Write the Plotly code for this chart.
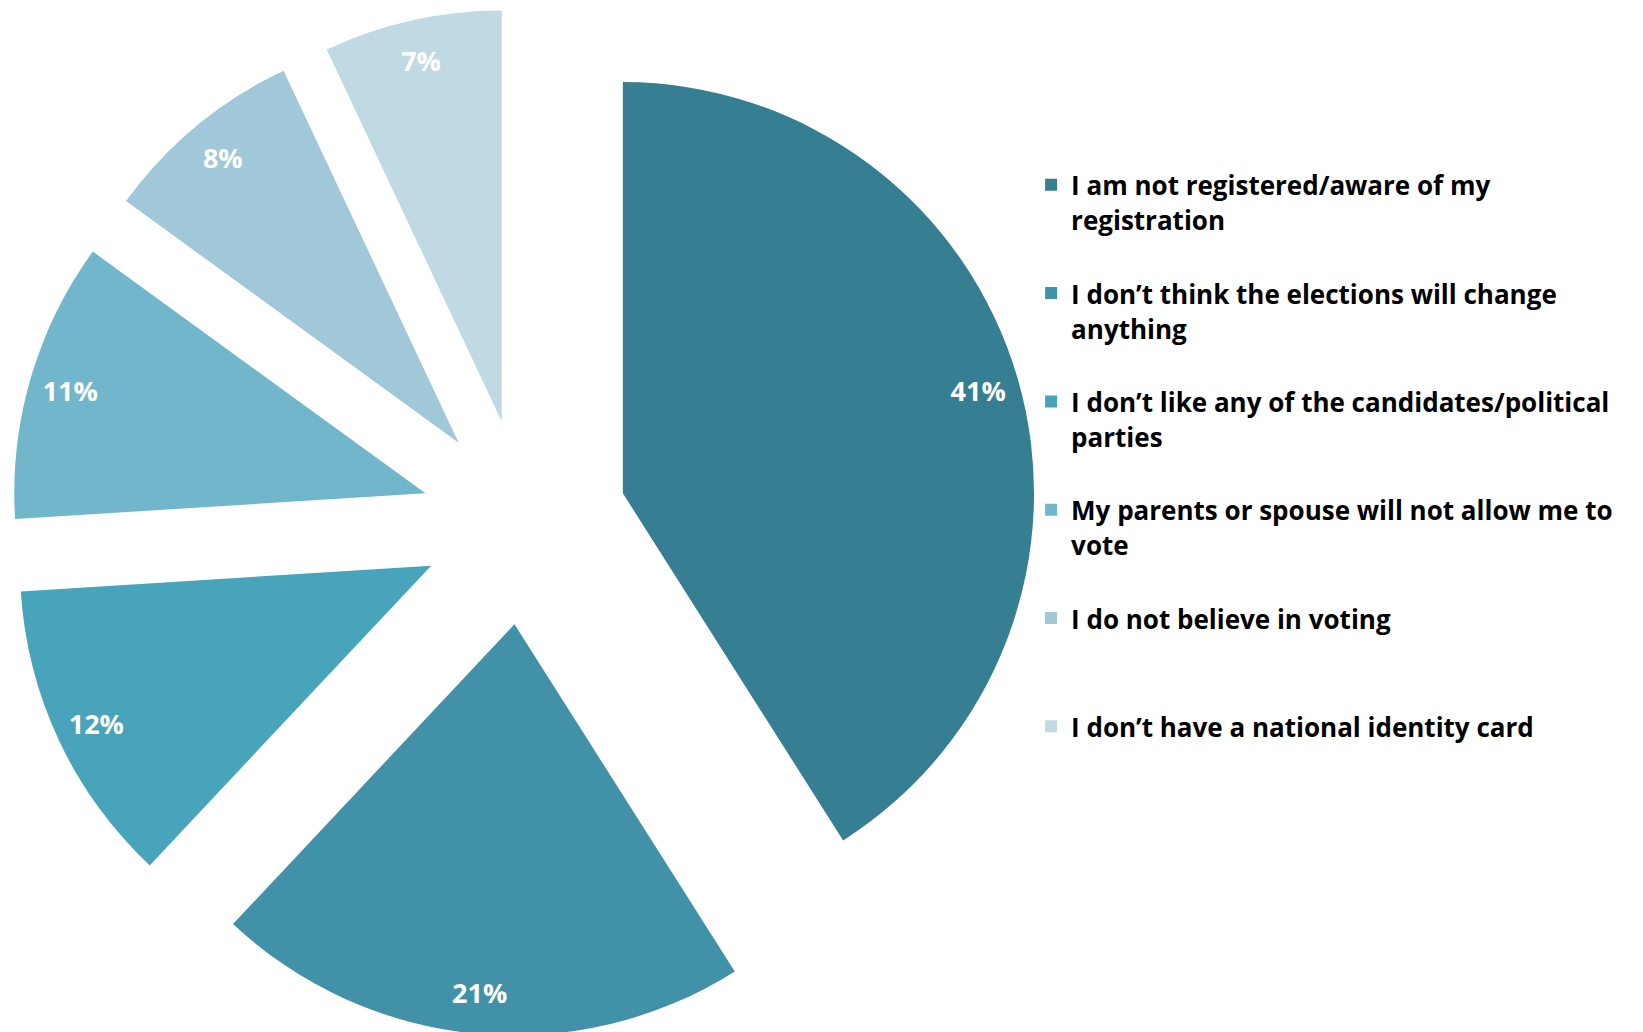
import plotly.graph_objects as go

# reasons for not voting (share of respondents)
reasons = [
    "I am not registered/aware of my<br>registration",
    "I don\u2019t think the elections will change<br>anything",
    "I don\u2019t like any of the candidates/political<br>parties",
    "My parents or spouse will not allow me to<br>vote",
    "I do not believe in voting",
    "I don\u2019t have a national identity card",
]
shares = [41, 21, 12, 11, 8, 7]
colors = ["#367E91", "#4191A9", "#48A4BB", "#72B6CB", "#A1C8D8", "#C0DAE3"]

# pad every legend entry to the same height so entries are evenly spaced
legend_names = []
for r in reasons:
    n_lines = r.count("<br>") + 1
    pad = "<br>&nbsp;" * (3 - n_lines)
    legend_names.append(f"<span style='font-size:26px'>{r}</span>{pad}")

domain = dict(x=[0.0013, 0.6270], y=[0.004, 1])
pull = [0.25] * len(shares)

fig = go.Figure()

# the exploded pie itself
fig.add_trace(go.Pie(
    labels=legend_names,
    values=shares,
    sort=False,
    direction="clockwise",
    rotation=0,
    pull=pull,
    marker=dict(colors=colors, line=dict(width=0)),
    textinfo="none",
    domain=domain,
    hoverinfo="skip",
))

# transparent ring on top of it, only to place the labels near the outer edge
fig.add_trace(go.Pie(
    labels=legend_names,
    values=shares,
    sort=False,
    direction="clockwise",
    rotation=0,
    pull=pull,
    hole=0.8,
    marker=dict(colors=["rgba(0,0,0,0)"] * len(shares), line=dict(width=0)),
    texttemplate="%{value}%",
    textposition="inside",
    insidetextorientation="horizontal",
    textfont=dict(family="Open Sans", size=27, color="white", weight="bold"),
    domain=domain,
    hoverinfo="skip",
    showlegend=False,
))

fig.update_layout(
    width=1643,
    height=1032,
    margin=dict(l=0, r=0, t=0, b=0),
    paper_bgcolor="white",
    plot_bgcolor="white",
    showlegend=True,
    legend=dict(
        x=0.6227, y=0.852,
        xanchor="left", yanchor="top",
        font=dict(family="Open Sans", size=27, color="black", weight="bold"),
        valign="top",
        bgcolor="rgba(0,0,0,0)",
    ),
)

fig.write_html("out.html")
